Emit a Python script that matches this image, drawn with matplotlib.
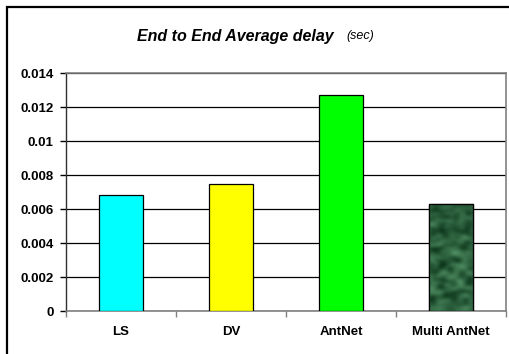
import numpy as np
import matplotlib
matplotlib.use("Agg")
import matplotlib.pyplot as plt
from matplotlib.patches import Rectangle

plt.rcParams['font.family'] = ['Liberation Sans', 'DejaVu Sans']

categories = ["LS", "DV", "AntNet", "Multi AntNet"]
delays = [0.00685, 0.0075, 0.0127, 0.0063]
bar_colors = ["#00ffff", "#ffff00", "#00ff00", "#1e5a34"]
y_ticks = [0, 0.002, 0.004, 0.006, 0.008, 0.01, 0.012, 0.014]
y_tick_labels = ["0", "0.002", "0.004", "0.006", "0.008", "0.01", "0.012", "0.014"]

W, H = 510, 354
fig = plt.figure(figsize=(W / 100, H / 100), dpi=100)

# outer chart frame (runs off the right and bottom edges)
fig.patches.append(Rectangle((7 / W, -0.05), 1.1, 1 - 7 / H + 0.05,
                             transform=fig.transFigure, fill=False,
                             edgecolor="black", linewidth=1.6, zorder=0))

ax = fig.add_axes([66 / W, 1 - 311 / H, 440 / W, (311 - 73) / H])
x = np.arange(len(categories))
bars = ax.bar(x, delays, width=0.4, color=bar_colors, edgecolor="black",
              linewidth=0.9, zorder=3)

# marbled texture for the last bar
rng = np.random.default_rng(7)
noise = rng.standard_normal((80, 24))
k = np.ones(3) / 3
for _ in range(3):
    noise = np.apply_along_axis(lambda r: np.convolve(r, k, mode="same"), 0, noise)
    noise = np.apply_along_axis(lambda r: np.convolve(r, k, mode="same"), 1, noise)
noise = (noise - noise.min()) / (noise.max() - noise.min())
dark = np.array([0x0c, 0x36, 0x1a]) / 255
light = np.array([0x4e, 0x8c, 0x62]) / 255
tex = dark + noise[..., None] * (light - dark)
b = bars[-1]
im = ax.imshow(tex, extent=(b.get_x(), b.get_x() + b.get_width(), 0, b.get_height()),
               aspect="auto", zorder=3.5, interpolation="bilinear")
im.set_clip_path(b)
ax.add_patch(Rectangle((b.get_x(), 0), b.get_width(), b.get_height(), fill=False,
                       edgecolor="black", linewidth=0.9, zorder=4))

ax.set_xlim(-0.5, len(categories) - 0.5)
ax.set_ylim(0, 0.014)
ax.set_yticks(y_ticks)
ax.set_yticklabels(y_tick_labels, fontsize=9.5, fontweight="bold")
ax.set_xticks(x)
ax.set_xticklabels(categories, fontsize=9.5, fontweight="bold")
ax.set_xticks(np.arange(len(categories) + 1) - 0.5, minor=True)
ax.tick_params(axis="x", which="major", length=0, pad=11)
ax.tick_params(axis="x", which="minor", length=4, color="#808080", width=1)
ax.tick_params(axis="y", length=4, width=1, color="black", pad=5)
ax.yaxis.grid(True, color="black", linewidth=0.9, zorder=1)
ax.set_axisbelow(True)

for side in ("top", "right", "bottom"):
    ax.spines[side].set_color("#808080")
    ax.spines[side].set_linewidth(1.2)
ax.spines["left"].set_color("#303030")
ax.spines["left"].set_linewidth(1)

fig.text(137 / W, 1 - 36 / H, "End to End Average delay", ha="left", va="center",
         fontsize=11.5, fontweight="bold", style="italic")
fig.text(346 / W, 1 - 36 / H, "(sec)", ha="left", va="center", fontsize=9,
         style="italic")

fig.savefig("out.png", dpi=100)
